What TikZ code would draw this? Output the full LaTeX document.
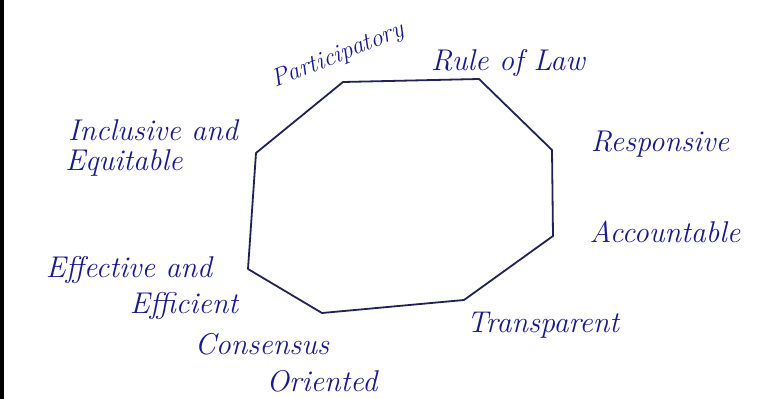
\documentclass[tikz,border=0pt]{standalone}
\usepackage{tikz}

\definecolor{ink}{RGB}{24,26,140}
\definecolor{pen}{RGB}{32,34,84}

\begin{document}
\begin{tikzpicture}[x=1pt, y=-1pt,
  lbl/.style={font=\fontsize{30}{32}\selectfont\itshape, text=ink, inner sep=0pt},
  side/.style={draw=pen, line width=1.8pt, line join=round}
]
\useasboundingbox (0,0) rectangle (766,399);
\fill[black] (0,0) rectangle (4,399);

% corners of the octagon
\coordinate (p1) at (343, 82);
\coordinate (p2) at (479, 79);
\coordinate (p3) at (552, 150);
\coordinate (p4) at (553, 236);
\coordinate (p5) at (464, 300);
\coordinate (p6) at (322, 313);
\coordinate (p7) at (248, 269);
\coordinate (p8) at (256, 153);
\draw[side] (p1) -- (p2) -- (p3) -- (p4) -- (p5) -- (p6) -- (p7) -- (p8) -- cycle;

% principles
\node[lbl, font=\fontsize{25}{27}\selectfont\itshape, rotate=22] (part) at (338, 56) {Participatory};
\node[lbl] (law) at (508, 63) {Rule of Law};
\node[lbl] (resp) at (660, 144) {Responsive};
\node[lbl] (acct) at (665, 232) {Accountable};
\node[lbl] (trans) at (543, 325) {Transparent};
\node[lbl] (cons) at (262, 344) {Consensus};
\node[lbl] (orient) at (322, 381) {Oriented};
\node[lbl] (eff) at (129, 270) {Effective and};
\node[lbl] (effi) at (184, 306) {Efficient};
\node[lbl] (incl) at (153, 130) {Inclusive and};
\node[lbl] (equi) at (124, 163) {Equitable};
\end{tikzpicture}
\end{document}
